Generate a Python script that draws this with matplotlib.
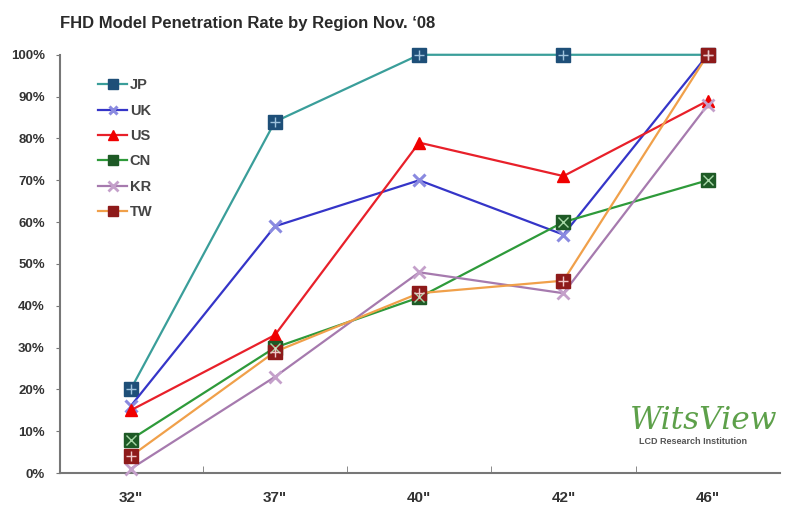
import matplotlib.pyplot as plt

plt.rcParams['font.family'] = ['Liberation Sans', 'DejaVu Sans']

sizes = ['32"', '37"', '40"', '42"', '46"']
jp = [20, 84, 100, 100, 100]
uk = [16, 59, 70, 57, 100]
us = [15, 33, 79, 71, 89]
cn = [8, 30, 42, 60, 70]
kr = [1, 23, 48, 43, 88]
tw = [4, 29, 43, 46, 100]
yticks = [0, 10, 20, 30, 40, 50, 60, 70, 80, 90, 100]

fig = plt.figure(figsize=(7.85, 5.12), dpi=100)
ax = fig.add_axes([0.0764, 0.076, 0.917, 0.817])

x = list(range(len(sizes)))

def square_series(vals, line, face, cross, label, inner='+'):
    ax.plot(x, vals, color=line, lw=1.6, marker='s', ms=10,
            mfc=face, mec=face, label=label, zorder=3, clip_on=False)
    ax.plot(x, vals, ls='none', marker=inner, ms=7, mec=cross, mew=1.0,
            zorder=4, clip_on=False)

square_series(jp, '#3A9E9A', '#1E4F78', '#9FC3DD', 'JP')
ax.plot(x, uk, color='#3535C8', lw=1.6, marker='x', ms=8, mew=2.2,
        mec='#8A8AE0', label='UK', zorder=3, clip_on=False)
ax.plot(x, us, color='#E8202A', lw=1.6, marker='^', ms=9, mfc='#F00000',
        mec='#F00000', label='US', zorder=3, clip_on=False)
square_series(cn, '#2E9A3A', '#1E5A26', '#A8D8A8', 'CN', inner='x')
ax.plot(x, kr, color='#A67AAE', lw=1.6, marker='x', ms=9, mew=2.0,
        mec='#C4A0CA', label='KR', zorder=3, clip_on=False)
square_series(tw, '#F0A04A', '#8E1A1A', '#F0C8C8', 'TW')

ax.set_xlim(-0.49, 4.5)
ax.set_ylim(0, 100)
ax.set_xticks(x)
ax.set_xticklabels(sizes, fontsize=11, fontweight='bold', color='#333333')
ax.set_xticks([i + 0.5 for i in range(4)], minor=True)
ax.tick_params(axis='x', which='major', length=0, pad=13)
ax.tick_params(axis='x', which='minor', length=5, direction='in', color='#777777')
ax.set_yticks(yticks)
ax.set_yticklabels([f'{v}%' for v in yticks], fontsize=9.5, fontweight='bold',
                   color='#333333')
ax.tick_params(axis='y', length=3, color='#777777', pad=8)
for s in ('top', 'right'):
    ax.spines[s].set_visible(False)
for s in ('left', 'bottom'):
    ax.spines[s].set_color('#777777')
    ax.spines[s].set_linewidth(1.5)

leg = ax.legend(loc='upper left', bbox_to_anchor=(0.035, 0.975), frameon=False,
                handlelength=2.0, handletextpad=0.15,
                labelspacing=0.78, markerscale=0.75,
                prop={'weight': 'bold', 'size': 10.5})
for t in leg.get_texts():
    t.set_color('#444444')

fig.text(0.076, 0.955, "FHD Model Penetration Rate by Region Nov. \u201808",
         fontsize=12, fontweight='bold', color='#2a2a2a', ha='left',
         va='center')

fig.text(0.803, 0.179, 'WitsView', fontsize=22.5, family='DejaVu Serif',
         style='italic', color='#5DA04A', ha='left', va='center')
fig.text(0.814, 0.138, 'LCD Research Institution', fontsize=6.5,
         fontweight='bold', color='#555555', ha='left', va='center')

fig.savefig('out.png', dpi=100)
